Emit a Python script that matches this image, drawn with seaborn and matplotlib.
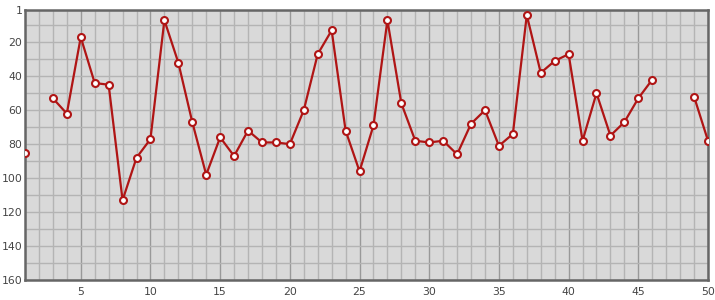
import numpy as np
import pandas as pd
import matplotlib
matplotlib.use("Agg")
import matplotlib.pyplot as plt
import seaborn as sns
from matplotlib.ticker import MultipleLocator, FixedLocator

x_values = list(range(1, 51))
y_values = [85, np.nan, 53, 62, 17, 44, 45, 113, 88, 77,
            7, 32, 67, 98, 76, 87, 72, 79, 79, 80,
            60, 27, 13, 72, 96, 69, 7, 56, 78, 79,
            78, 86, 68, 60, 81, 74, 4, 38, 31, 27,
            78, 50, 75, 67, 53, 42, np.nan, np.nan, 52, 78]
x_tick_labels = [5, 10, 15, 20, 25, 30, 35, 40, 45, 50]
y_tick_labels = [1, 20, 40, 60, 80, 100, 120, 140, 160]

df = pd.DataFrame({"x": x_values, "y": y_values})
df["segment"] = df["y"].isna().cumsum()
df = df.dropna()

sns.set_style("white")
plt.rcParams["font.family"] = ["DejaVu Sans"]

fig = plt.figure(figsize=(7.15, 3.0), dpi=100)
ax = fig.add_axes([25 / 715, 20 / 300, 683 / 715, 270 / 300])
ax.set_facecolor("#d9d9d9")

line_color = "#b01515"
sns.lineplot(data=df, x="x", y="y", units="segment", estimator=None,
             color=line_color, linewidth=1.6, marker="o", markersize=5,
             markerfacecolor="white", markeredgecolor=line_color,
             markeredgewidth=1.5, ax=ax, zorder=5)

ax.set_xlim(1, 50)
ax.set_ylim(160, 1)

ax.xaxis.set_major_locator(FixedLocator(x_tick_labels))
ax.xaxis.set_minor_locator(MultipleLocator(1))
ax.yaxis.set_major_locator(FixedLocator(y_tick_labels))
ax.yaxis.set_minor_locator(MultipleLocator(10))

ax.grid(True, which="minor", color="#b4b4b4", linewidth=1.0, zorder=0)
ax.grid(True, which="major", axis="x", color="#999999", linewidth=1.0, zorder=0)
ax.grid(True, which="major", axis="y", color="#b4b4b4", linewidth=1.0, zorder=0)
ax.set_axisbelow(True)

ax.tick_params(axis="both", which="both", length=0, labelsize=7.8,
               labelcolor="#444444")
ax.tick_params(axis="y", pad=2)
ax.tick_params(axis="x", pad=5)
ax.set_xlabel("")
ax.set_ylabel("")

for side in ["left", "bottom", "top", "right"]:
    ax.spines[side].set_visible(True)
    ax.spines[side].set_color("#666666")
    ax.spines[side].set_linewidth(1.8)

fig.savefig("out.png", dpi=100)
